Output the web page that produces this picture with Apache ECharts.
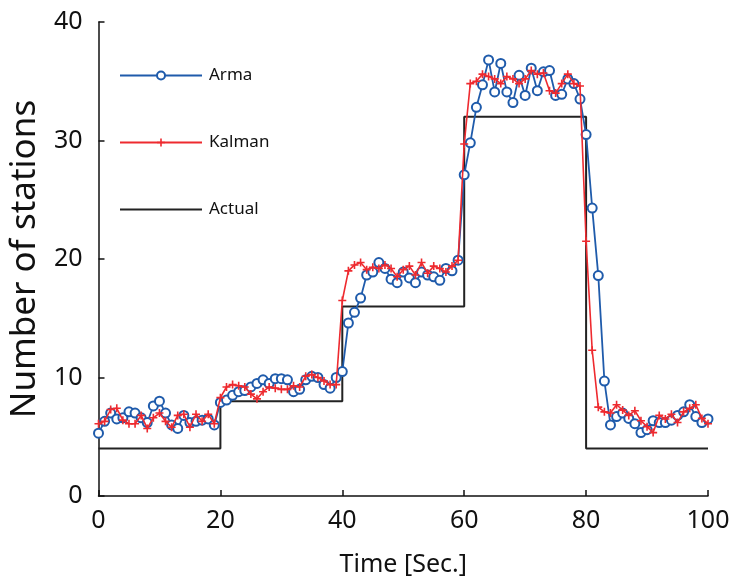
<!DOCTYPE html>
<html>
<head>
<meta charset="utf-8">
<script src="https://cdn.jsdelivr.net/npm/echarts@6/dist/echarts.min.js"></script>
<style>html,body{margin:0;padding:0;background:#fff}#chart{width:734px;height:582px}</style>
</head>
<body>
<div id="chart"></div>
<script>
// Arma estimates, one per second from t = 0 to t = 100
var arma = [
  5.3, 6.3, 7.0, 6.5, 6.6, 7.1, 7.0, 6.6, 6.2, 7.6,
  8.0, 7.0, 6.0, 5.7, 6.8, 6.2, 6.3, 6.4, 6.5, 6.0,
  7.9, 8.1, 8.5, 8.8, 8.9, 9.2, 9.5, 9.8, 9.5, 9.9,
  9.9, 9.8, 8.8, 9.0, 9.8, 10.1, 10.0, 9.4, 9.1, 10.0,
  10.5, 14.6, 15.5, 16.7, 18.65, 18.9, 19.7, 19.2, 18.3, 18.0,
  18.9, 18.4, 18.0, 18.9, 18.65, 18.5, 18.2, 19.2, 19.0, 19.9,
  27.1, 29.8, 32.8, 34.7, 36.8, 34.1, 36.5, 34.1, 33.2, 35.5,
  33.8, 36.1, 34.2, 35.8, 35.9, 33.8, 33.9, 35.2, 34.8, 33.5,
  30.5, 24.3, 18.6, 9.7, 6.0, 6.7, 7.0, 6.55, 6.1, 5.35,
  5.6, 6.35, 6.2, 6.2, 6.4, 6.8, 7.1, 7.7, 6.7, 6.2,
  6.5
];
// Kalman estimates, one per second from t = 0 to t = 100
var kalman = [
  6.1, 6.3, 7.3, 7.4, 6.4, 6.1, 6.1, 6.8, 5.7, 6.6,
  7.0, 6.3, 5.8, 6.8, 6.9, 5.8, 6.9, 6.3, 6.9, 6.1,
  8.3, 9.2, 9.4, 9.3, 9.2, 8.6, 8.2, 8.8, 9.2, 9.1,
  9.0, 9.0, 9.3, 9.2, 10.1, 10.25, 10.0, 9.7, 9.4, 9.4,
  16.5, 19.0, 19.5, 19.7, 19.1, 19.3, 19.2, 19.5, 19.2, 18.5,
  19.1, 19.4, 18.65, 19.7, 18.8, 19.4, 19.2, 18.9, 19.4, 19.9,
  29.7, 34.8, 35.0, 35.6, 35.4, 35.2, 34.8, 35.4, 35.2, 34.8,
  35.2, 35.9, 35.6, 35.7, 34.2, 34.0, 34.8, 35.6, 34.8, 34.6,
  21.5, 12.3, 7.5, 7.1, 7.0, 7.7, 7.25, 6.8, 7.2, 6.35,
  5.85, 5.35, 6.8, 6.5, 6.9, 6.2, 7.1, 7.4, 7.7, 6.55,
  6.1
];
// Actual number of stations (step changes)
var actualTimes = [0, 20, 40, 60, 80, 100];
var actualValues = [4, 8, 16, 32, 4, 4];

var xTicks = [0, 20, 40, 60, 80, 100];
var yTicks = [0, 10, 20, 30, 40];

function pairs(vals) {
  return vals.map(function (v, i) { return [i, v]; });
}
var actualData = actualTimes.map(function (t, i) { return [t, actualValues[i]]; });

var FONT = '"Noto Sans", "Open Sans", sans-serif';
var plus = 'path://M4,0H6V4H10V6H6V10H4V6H0V4H4Z';
var BLUE = '#1f5bab', RED = '#ee2a2f', BLACK = '#222';

var chart = echarts.init(document.getElementById('chart'), null, {renderer: 'canvas'});
chart.setOption({
  animation: false,
  backgroundColor: '#fff',
  textStyle: {fontFamily: FONT},
  grid: {left: 97, right: 26, top: 22, bottom: 84, containLabel: false},
  legend: {
    orient: 'vertical',
    left: 114,
    top: 62,
    itemWidth: 82,
    itemHeight: 10,
    itemGap: 50,
    data: [
      {name: 'Arma'},
      {name: 'Kalman'},
      {name: 'Actual', icon: 'path://M0,0H82V2H0Z'}
    ],
    textStyle: {fontFamily: FONT, fontSize: 17, color: '#111', padding: [0, 0, 0, 2]}
  },
  xAxis: {
    type: 'value', min: xTicks[0], max: xTicks[xTicks.length - 1], interval: 20,
    name: 'Time [Sec.]', nameLocation: 'middle', nameGap: 56,
    nameTextStyle: {fontFamily: FONT, fontSize: 25, color: '#111'},
    axisLine: {lineStyle: {color: '#111', width: 1.5}},
    axisTick: {inside: true, length: 6, lineStyle: {color: '#111', width: 1.5}},
    axisLabel: {fontFamily: FONT, fontSize: 25, color: '#111', margin: 12},
    splitLine: {show: false}
  },
  yAxis: {
    type: 'value', min: yTicks[0], max: yTicks[yTicks.length - 1], interval: 10,
    name: 'Number of stations', nameLocation: 'middle', nameGap: 52,
    nameTextStyle: {fontFamily: FONT, fontSize: 35, color: '#111'},
    axisLine: {show: true, lineStyle: {color: '#111', width: 1.5}},
    axisTick: {show: true, inside: true, length: 6, lineStyle: {color: '#111', width: 1.5}},
    axisLabel: {fontFamily: FONT, fontSize: 25, color: '#111', margin: 16},
    splitLine: {show: false}
  },
  series: [
    {
      name: 'Actual', type: 'line', step: 'end', data: actualData, z: 1,
      symbol: 'none', showSymbol: false,
      lineStyle: {color: BLACK, width: 2}, itemStyle: {color: BLACK}
    },
    {
      name: 'Arma', type: 'line', data: pairs(arma), z: 2,
      symbol: 'emptyCircle', symbolSize: 9,
      lineStyle: {color: BLUE, width: 1.8},
      itemStyle: {color: BLUE, borderColor: BLUE, borderWidth: 1.8}
    },
    {
      name: 'Kalman', type: 'line', data: pairs(kalman), z: 3,
      symbol: plus, symbolSize: 8,
      lineStyle: {color: RED, width: 1.6},
      itemStyle: {color: RED}
    }
  ]
});
</script>
</body>
</html>
